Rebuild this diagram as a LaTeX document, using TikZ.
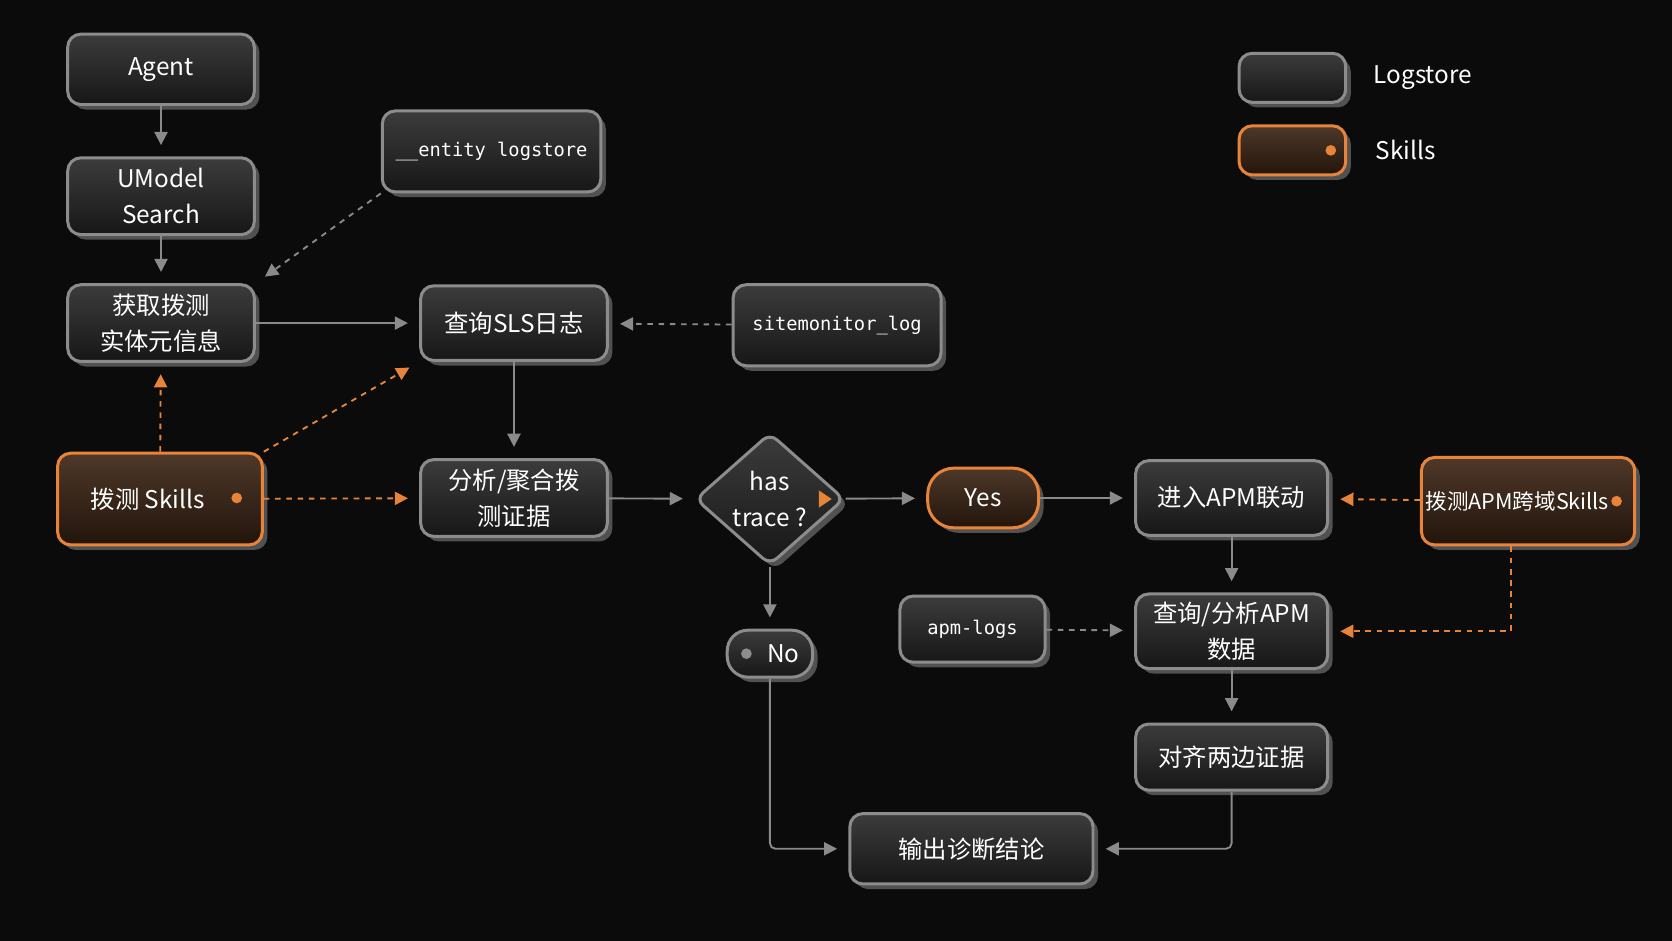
\documentclass[tikz,border=0pt]{standalone}
\usepackage{fontspec}
\setmainfont{Noto Sans CJK SC}
\newfontfamily\codefont{DejaVu Sans Mono}
\usetikzlibrary{shapes.geometric,arrows.meta,shadows}
\definecolor{bgc}{HTML}{0B0B0B}
\definecolor{boxc}{HTML}{262626}
\definecolor{edgec}{HTML}{8C8C8C}
\definecolor{linec}{HTML}{8A8A8A}
\definecolor{orc}{HTML}{E8843A}
\definecolor{orfill}{HTML}{3A2212}
\tikzset{
  box/.style={draw=edgec, line width=1.6pt, rounded corners=7pt, top color=boxc!90!white, bottom color=boxc!60!black,
    text=white, align=center, font=\fontsize{13}{19}\selectfont, drop shadow={opacity=0.6}},
  skill/.style={box, draw=orc, top color=orfill!90!white, bottom color=orfill!60!black},
  code/.style={box, font=\codefont\fontsize{10}{13}\selectfont},
  flow/.style={draw=linec, line width=1pt, -{Triangle[length=7pt,width=7pt]}, shorten >=6pt},
  feed/.style={flow, dashed},
  orfeed/.style={flow, dashed, draw=orc, -{Triangle[length=7pt,width=7pt,fill=orc]}},
}
\begin{document}
\begin{tikzpicture}[x=0.02cm, y=-0.02cm]
  \fill[bgc] (0,0) rectangle (1568,882);
  % main column
  \node[box, minimum width=175*0.02cm, minimum height=66*0.02cm] (agent) at (151,65) {Agent};
  \node[box, minimum width=175*0.02cm, minimum height=72*0.02cm] (umodel) at (151,184) {UModel\\Search};
  \node[box, minimum width=175*0.02cm, minimum height=72*0.02cm] (meta) at (151,303) {获取拨测\\实体元信息};
  \node[skill, minimum width=192*0.02cm, minimum height=86*0.02cm] (probe) at (150,468) {拨测\ Skills\hspace{1em}};
  \fill[orc] (222,467) circle (5);
  % logstores
  \node[code, minimum width=205*0.02cm, minimum height=76*0.02cm] (entity) at (461,142) {\_\_entity logstore};
  \node[code, minimum width=195*0.02cm, minimum height=76*0.02cm] (sitelog) at (785,305) {sitemonitor\_log};
  \node[code, minimum width=136*0.02cm, minimum height=62*0.02cm] (apmlog) at (912,590) {apm-logs};
  % middle
  \node[box, minimum width=175*0.02cm, minimum height=70*0.02cm] (sls) at (482,303) {查询SLS日志};
  \node[box, minimum width=175*0.02cm, minimum height=72*0.02cm] (evid) at (482,467) {分析/聚合拨\\测证据};
  \node[box, diamond, rounded corners=5pt, minimum width=140*0.02cm, minimum height=124*0.02cm, inner sep=0pt,
    font=\fontsize{13}{19}\selectfont] (trace) at (722,468) {has\\trace ?};
  \fill[orc] (768,460) -- (780,468) -- (768,476) -- cycle;
  \node[skill, rounded corners=14pt, minimum width=104*0.02cm, minimum height=56*0.02cm] (yes) at (922,467) {Yes};
  \node[box, rounded corners=11pt, minimum width=80*0.02cm, minimum height=44*0.02cm] (no) at (722,613) {\hspace{1.1em}No};
  \fill[edgec] (700,613) circle (5);
  % right
  \node[box, minimum width=180*0.02cm, minimum height=70*0.02cm] (apmin) at (1155,467) {进入APM联动};
  \node[skill, minimum width=200*0.02cm, minimum height=82*0.02cm, inner xsep=2pt, font=\fontsize{11.5}{16}\selectfont] (apmskill) at (1433,470) {拨测APM跨域Skills\hspace{1em}};
  \fill[orc] (1516,470) circle (5);
  \node[box, minimum width=180*0.02cm, minimum height=70*0.02cm] (apmq) at (1155,592) {查询/分析APM\\数据};
  \node[box, minimum width=180*0.02cm, minimum height=62*0.02cm] (align) at (1155,710) {对齐两边证据};
  \node[box, minimum width=228*0.02cm, minimum height=66*0.02cm] (out) at (911,796) {输出诊断结论};
  % legend
  \node[box, minimum width=100*0.02cm, minimum height=46*0.02cm] (lgray) at (1212,73) {};
  \node[skill, minimum width=100*0.02cm, minimum height=46*0.02cm] (lorange) at (1212,141) {};
  \fill[orc] (1248,141) circle (5);
  \node[text=white, anchor=west, font=\fontsize{13}{17}\selectfont] (ltext1) at (1282,73) {Logstore};
  \node[text=white, anchor=west, font=\fontsize{13}{17}\selectfont] (ltext2) at (1284,141) {Skills};
  % connectors
  \draw[flow] (agent) -- (umodel);
  \draw[flow] (umodel) -- (meta);
  \draw[feed] (entity.south west) -- (meta.north east);
  \draw[flow] (meta) -- (sls);
  \draw[feed] (sitelog) -- (sls);
  \draw[flow] (sls) -- (evid);
  \draw[orfeed] (probe) -- (meta);
  \draw[orfeed] (probe.north east) -- (sls.south west);
  \draw[orfeed] (probe) -- (evid);
  \draw[flow] (evid) -- (trace);
  \draw[flow] (trace) -- (yes);
  \draw[flow] (yes) -- (apmin);
  \draw[orfeed] (apmskill) -- (apmin);
  \draw[orfeed] (apmskill.south) ++(-16,0) coordinate (turn) |- (apmq.east);
  \draw[flow] (apmin) -- (apmq);
  \draw[feed] (apmlog) -- (apmq);
  \draw[flow] (apmq) -- (align);
  \draw[flow, rounded corners=3pt] (align) |- (out);
  \draw[flow] (trace) -- (no);
  \draw[flow, rounded corners=3pt] (no) |- (out);
\end{tikzpicture}
\end{document}
